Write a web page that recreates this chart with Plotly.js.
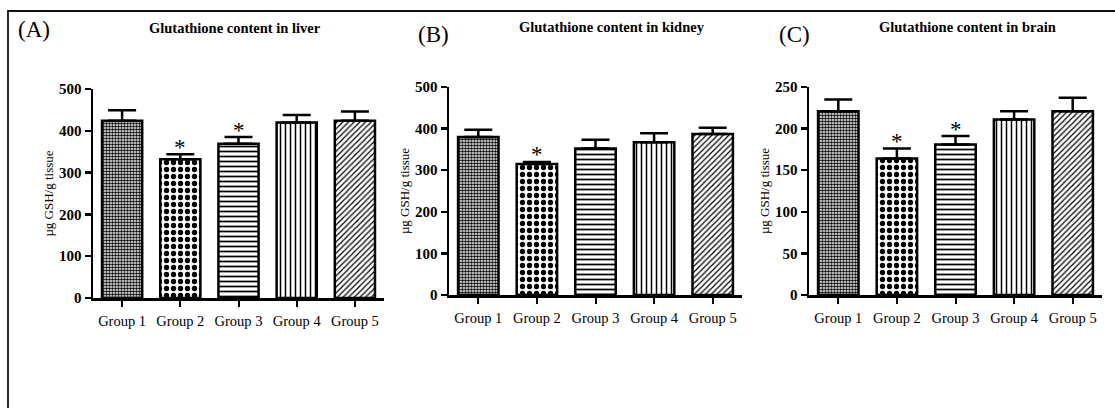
<!DOCTYPE html>
<html>
<head>
<meta charset="utf-8">
<script src="https://cdn.plot.ly/plotly-3.0.1.min.js"></script>
<style>html,body{margin:0;padding:0;background:#fff;}#chart{width:1115px;height:408px;}</style>
</head>
<body>
<div id="chart"></div>
<script>
// ---- data ----
const groups = ["Group 1", "Group 2", "Group 3", "Group 4", "Group 5"];
const liverMean  = [424, 332, 369, 420, 424];
const liverErr   = [25, 12, 16, 18, 22];
const liverSig   = [0, 1, 1, 0, 0];
const kidneyMean = [380, 315, 352, 367, 387];
const kidneyErr  = [17, 5, 21, 22, 15];
const kidneySig  = [0, 1, 0, 0, 0];
const brainMean  = [221, 164, 181, 211, 221];
const brainErr   = [14, 12, 10, 10, 16];
const brainSig   = [0, 1, 1, 0, 0];
const panelTitles = ["Glutathione content in liver", "Glutathione content in kidney", "Glutathione content in brain"];
const panelLabels = ["(A)", "(B)", "(C)"];
const yTitle = "µg GSH/g tissue";

// ---- styling ----
const W = 1115, H = 408;
const serif = "Liberation Serif, Times New Roman, serif";
const px = v => v / W;
const py = v => 1 - v / H;

const patShapes = [".", ".", "-", "|", "/"];
const patSizes = [3, 7, 5, 5, 4];
const patSolid = [0.55, 0.45, 0.35, 0.3, 0.3];

const panels = [
  {mean: liverMean, err: liverErr, sig: liverSig, xd: [93, 384], yd: [298, 89], yr: [0, 500], dt: 100,
   label: [34, 30], title: [235, 28]},
  {mean: kidneyMean, err: kidneyErr, sig: kidneySig, xd: [449, 742], yd: [295, 87], yr: [0, 500], dt: 100,
   label: [433, 34], title: [612, 27]},
  {mean: brainMean, err: brainErr, sig: brainSig, xd: [809, 1102], yd: [295, 87], yr: [0, 250], dt: 50,
   label: [794, 34], title: [967, 27]}
];

const data = [];
const layout = {
  width: W, height: H,
  margin: {l: 0, r: 0, t: 0, b: 0},
  paper_bgcolor: "#fff", plot_bgcolor: "#fff",
  showlegend: false,
  font: {family: serif, color: "#000"},
  annotations: [],
  shapes: [{
    type: "rect", xref: "paper", yref: "paper",
    x0: px(8), x1: 1.2, y0: -0.2, y1: py(11),
    line: {color: "#111", width: 1.8}
  }]
};

panels.forEach((p, i) => {
  const n = i + 1;
  const xa = n === 1 ? "x" : "x" + n;
  const ya = n === 1 ? "y" : "y" + n;
  data.push({
    type: "bar", x: groups, y: p.mean, xaxis: xa, yaxis: ya, width: 0.69,
    marker: {
      color: "#fff",
      line: {color: "#000", width: 2.5},
      pattern: {shape: patShapes, size: patSizes, solidity: patSolid, fgcolor: "#000", bgcolor: "#fff", fillmode: "replace"}
    },
    error_y: {type: "data", symmetric: false, array: p.err, arrayminus: p.err.map(() => 0),
              color: "#000", thickness: 2.5, width: 14},
    hoverinfo: "skip"
  });
  const xk = n === 1 ? "xaxis" : "xaxis" + n;
  const yk = n === 1 ? "yaxis" : "yaxis" + n;
  layout[xk] = {
    domain: [px(p.xd[0]), px(p.xd[1])], anchor: ya, type: "category",
    range: [-0.5, 4.5], fixedrange: true,
    showline: true, linecolor: "#000", linewidth: 2.5,
    ticks: "outside", ticklen: 6, tickwidth: 2, tickcolor: "#000",
    showgrid: false, zeroline: false,
    tickfont: {family: serif, size: 14.5, color: "#000"},
    ticklabelstandoff: 2
  };
  layout[yk] = {
    domain: [py(p.yd[0]), py(p.yd[1])], anchor: xa,
    range: p.yr, dtick: p.dt, tick0: 0, fixedrange: true,
    showline: true, linecolor: "#000", linewidth: 2.5,
    ticks: "outside", ticklen: 6, tickwidth: 2.5, tickcolor: "#000",
    showgrid: false, zeroline: false,
    tickfont: {family: serif, size: 15, color: "#000", weight: "bold"},
    title: {text: yTitle, font: {family: serif, size: 13, color: "#000"}, standoff: 3}
  };
  // panel title
  layout.annotations.push({
    text: panelTitles[i], xref: "paper", yref: "paper",
    x: px(p.title[0]), y: py(p.title[1]), xanchor: "center", yanchor: "middle",
    showarrow: false, font: {family: serif, size: 14.5, color: "#000", weight: "bold"}
  });
  // panel label
  layout.annotations.push({
    text: panelLabels[i], xref: "paper", yref: "paper",
    x: px(p.label[0]), y: py(p.label[1]), xanchor: "center", yanchor: "middle",
    showarrow: false, font: {family: serif, size: 23, color: "#000"}
  });
  // significance asterisks
  p.sig.forEach((s, j) => {
    if (!s) return;
    layout.annotations.push({
      text: "*", xref: xa, yref: ya, x: groups[j], y: p.mean[j] + p.err[j],
      xanchor: "center", yanchor: "middle", yshift: 7, showarrow: false,
      font: {family: serif, size: 23, color: "#000"}
    });
  });
});

Plotly.newPlot("chart", data, layout, {staticPlot: true, displayModeBar: false});
</script>
</body>
</html>
